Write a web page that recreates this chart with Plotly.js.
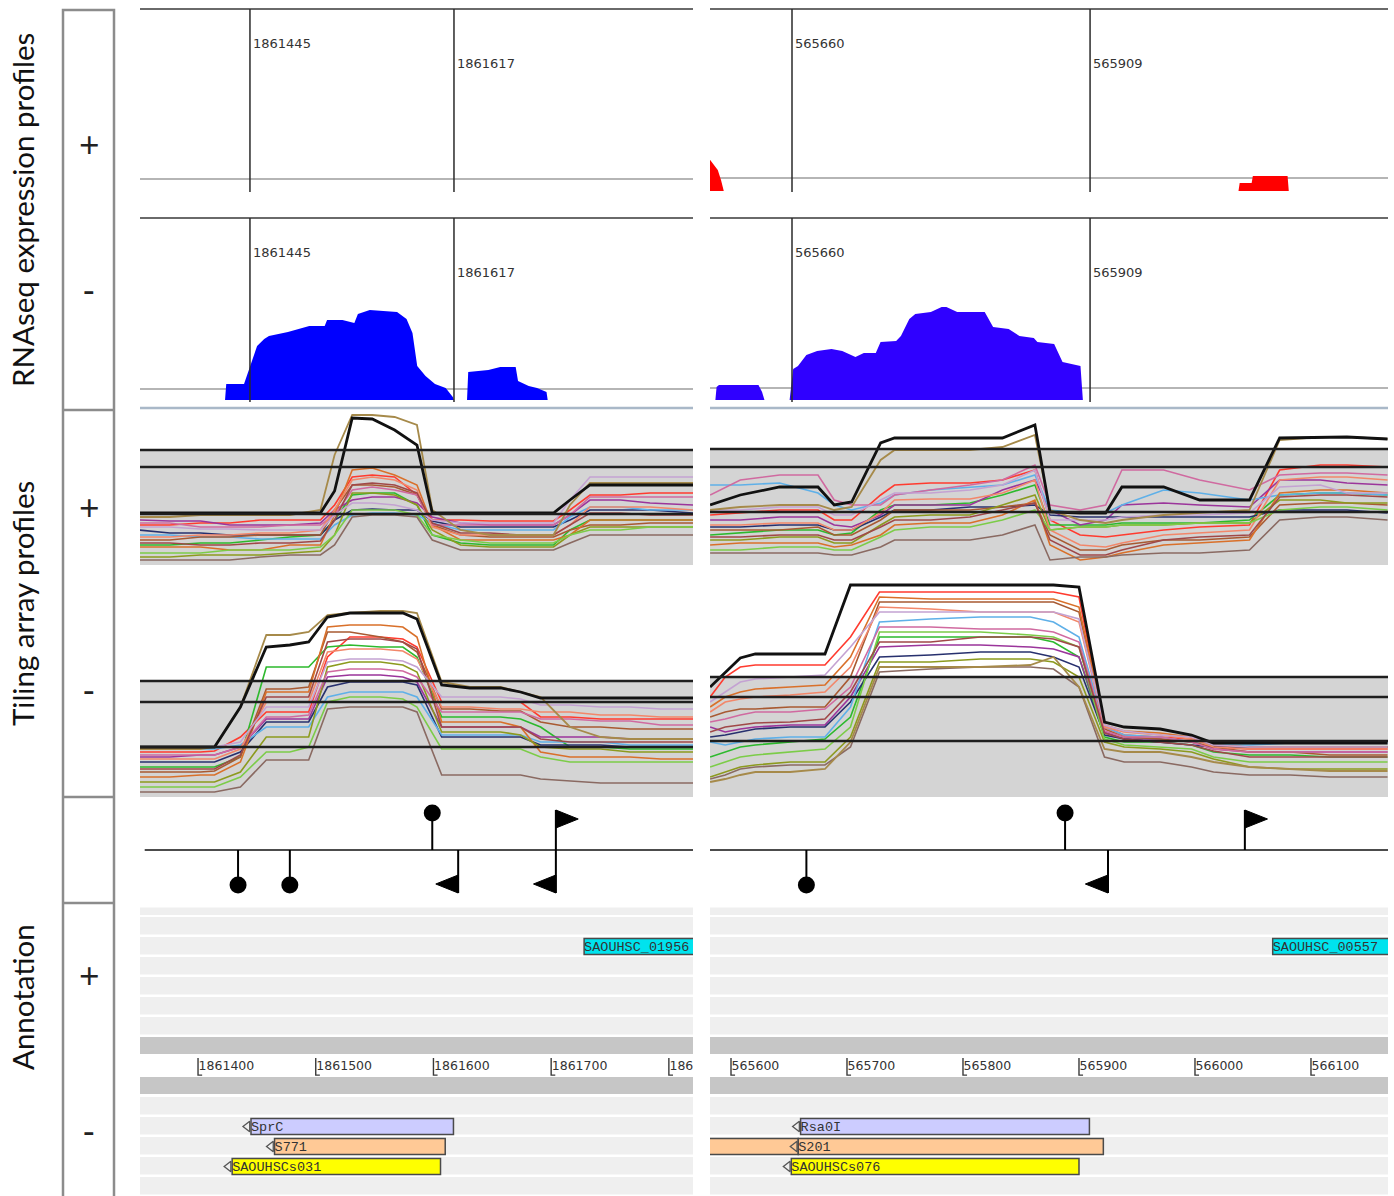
<!DOCTYPE html>
<html>
<head>
<meta charset="utf-8">
<script src="https://cdn.plot.ly/plotly-3.0.1.min.js"></script>
<style>html,body{margin:0;padding:0;background:#fff;}#chart{width:1394px;height:1196px;}</style>
</head>
<body>
<div id="chart"></div>
<script>
// ===================== DATA =====================
const boundsLeft = [1861445, 1861617];
const boundsRight = [565660, 565909];
const boundLabelsLeft = ['1861445', '1861617'];
const boundLabelsRight = ['565660', '565909'];

// RNAseq coverage (minus strand, left region)
const rnaMinusLeftPos = [1861424,1861425,1861440,1861443,1861446,1861451,1861457,1861461,1861477,1861485,1861495,1861508,1861510,1861523,1861533,1861536,1861546,1861569,1861577,1861582,1861586,1861593,1861601,1861610,1861616,1861617,1861628,1861629,1861646,1861656,1861669,1861671,1861680,1861687,1861695,1861696];
const rnaMinusLeftVal = [0,16,16,26,37,54,61,64,68,71,74,74,80,80,77,86,90,88,81,67,34,24,16,12,3,0,0,28,30,33,33,19,14,12,8,0];
// RNAseq coverage (minus strand, right region)
const rnaMinusRightPos = [565596,565597,565599,565632,565635,565637,565658,565661,565665,565672,565681,565693,565702,565713,565720,565730,565734,565747,565751,565758,565763,565776,565785,565789,565798,565821,565828,565841,565850,565862,565865,565879,565886,565901,565903];
const rnaMinusRightVal = [0,13,15,15,8,0,0,31,34,45,49,51,49,43,47,47,58,59,64,81,86,88,93,93,88,88,73,71,64,62,58,56,38,34,0];
// RNAseq coverage (plus strand, right region)
const rnaPlusRightPos = [565591,565593.6,565598,565600.7,565602.4,565603,566033,566034,566044,566045,566074,566075];
const rnaPlusRightVal = [32,28,21,11,0,0,0,8,8,15,15,0];

// Tiling array: probe grids and profiles
const tileLPlusGrid = [1861350,1861376,1861402,1861427,1861453,1861478,1861504,1861516,1861531,1861548,1861567,1861586,1861599,1861623,1861648,1861674,1861702,1861716,1861733,1861759,1861784,1861821];
const tileLPlusSeries = [
 [40,40,42,42,45,45,45,60,88,90,88,70,45,45,44,44,44,55,70,70,72,72],
 [20,20,22,22,25,28,30,45,70,72,72,60,30,22,20,20,20,35,45,45,45,45],
 [45,44,44,40,40,40,42,55,65,68,68,62,48,42,40,40,40,50,65,65,62,60],
 [35,32,32,30,30,30,30,45,55,56,55,55,44,38,38,38,38,45,55,55,55,52],
 [30,30,28,28,26,26,26,40,50,52,52,50,42,35,35,35,35,48,58,58,55,55],
 [25,25,28,28,30,30,30,55,80,80,78,70,40,30,28,28,28,35,40,40,42,42],
 [18,18,18,15,15,20,20,50,95,97,90,80,40,25,25,25,25,30,45,45,45,45],
 [8,8,10,10,10,12,14,30,72,72,70,60,35,20,18,18,18,30,38,38,38,38],
 [42,42,38,38,38,40,40,50,75,78,75,70,40,40,40,40,40,50,68,68,68,68],
 [28,28,30,30,32,32,35,55,85,88,85,75,38,30,30,30,30,40,58,58,58,55],
 [12,12,12,15,15,15,18,30,55,55,55,50,30,25,22,22,22,30,35,35,38,38],
 [22,22,20,20,22,22,24,45,80,82,80,72,42,32,32,30,30,40,52,52,50,50],
 [38,38,36,36,35,35,35,50,62,62,60,55,45,42,42,42,42,65,88,88,88,88],
 [5,5,5,5,8,10,10,20,48,50,50,48,25,15,15,15,15,22,30,30,30,30]
];
const tileLPlusOlive = [48,48,50,50,50,50,55,110,150,150,148,140,55,35,30,30,30,60,82,82,82,82];
const tileLPlusBlack = [52,52,52,52,52,52,52,74,147,146,135,120,52,52,52,52,52,65,80,80,80,80];
const thrLPlus = [115, 98, 51];

const tileLMinusGrid = [1861350,1861376,1861402,1861414,1861436,1861458,1861478,1861494,1861510,1861529,1861555,1861574,1861586,1861607,1861631,1861657,1861674,1861691,1861716,1861742,1861767,1861793,1861821];
const tileLMinusSeries = [
 [45,45,45,46,60,85,85,85,140,160,160,158,150,95,95,95,95,80,80,78,78,78,78],
 [30,30,30,30,40,130,130,130,150,152,150,150,140,80,80,80,78,70,50,50,48,48,48],
 [40,40,42,42,50,78,78,78,120,122,122,120,115,70,70,70,70,60,60,60,58,58,58],
 [35,35,35,35,45,75,75,75,110,115,115,115,112,60,60,60,60,52,52,52,50,50,50],
 [48,48,48,48,52,70,70,70,100,105,105,105,100,62,62,62,62,55,55,55,52,52,52],
 [25,25,25,26,40,108,108,110,165,165,160,155,145,88,88,86,86,75,70,70,68,68,68],
 [20,20,22,22,35,105,105,105,170,172,172,170,160,75,75,75,70,45,40,40,40,38,38],
 [15,15,15,15,25,60,60,60,130,135,135,132,125,65,65,65,62,50,48,48,45,45,45],
 [42,42,42,42,50,80,80,82,125,128,128,126,120,85,85,85,85,78,78,76,76,72,72],
 [38,38,38,38,48,95,95,95,145,148,148,146,138,90,90,88,88,85,85,82,82,80,80],
 [10,10,10,10,20,45,45,50,95,100,100,98,90,48,48,48,48,40,35,35,35,35,35],
 [28,28,28,28,42,100,100,100,155,158,158,155,148,70,70,70,70,58,55,55,55,55,55],
 [50,50,50,50,55,90,90,90,135,138,138,136,130,100,100,100,98,92,92,90,90,88,88],
 [5,5,5,5,10,37,37,37,88,90,90,90,85,22,22,22,22,18,16,14,14,14,14]
];
const tileLMinusOlive = [48,48,48,50,90,162,162,165,182,184,186,186,184,115,110,110,105,100,70,60,58,58,58];
const tileLMinusBlack = [50,50,50,50,90,150,152,155,180,184,184,184,178,112,109,109,105,99,99,99,99,99,99];
const thrLMinus = [116, 95, 50];

const tileRPlusGrid = [565582,565608,565642,565675,565689,565704,565729,565741,565772,565806,565834,565862,565875,565901,565923,565937,565973,566004,566047,566073,566108,566131,566166];
const tileRPlusSeries = [
 [50,52,55,55,45,45,70,80,82,82,85,95,45,30,28,30,35,38,40,95,100,100,98],
 [30,32,35,35,30,32,55,60,60,62,70,80,40,40,40,42,42,42,45,70,72,72,70],
 [45,45,48,48,40,38,50,60,60,60,75,85,55,40,45,60,62,60,58,85,85,82,80],
 [38,38,40,40,35,35,48,55,55,58,58,60,50,48,48,48,48,48,48,55,55,55,52],
 [80,80,82,72,60,55,62,70,75,78,80,90,55,52,52,60,75,72,65,70,72,72,70],
 [35,35,35,38,30,30,45,55,55,55,58,62,30,15,15,20,25,25,28,60,62,62,60],
 [20,22,22,22,18,20,30,40,42,42,50,65,20,5,8,12,20,22,25,72,75,75,72],
 [25,25,28,28,22,22,40,48,50,50,60,70,35,38,38,40,40,42,42,65,65,62,62],
 [70,85,90,90,65,60,60,70,75,80,85,100,60,55,60,95,95,85,75,90,92,92,90],
 [40,40,42,42,35,35,52,65,66,66,72,85,35,20,18,22,30,32,35,85,88,88,85],
 [15,15,18,18,15,15,28,35,38,38,45,55,35,38,38,40,40,42,42,55,58,58,55],
 [28,28,30,30,25,25,38,45,45,48,55,62,25,10,10,15,25,28,30,68,70,70,68],
 [55,55,58,58,50,50,65,72,72,75,80,95,45,45,45,48,50,50,52,78,80,72,72],
 [12,12,12,12,10,10,18,25,25,25,30,40,5,8,8,10,12,12,15,45,48,48,45]
];
const tileRPlusOlive = [55,58,60,60,55,58,105,115,115,115,118,130,55,45,42,45,50,52,55,125,128,128,126];
const tileRPlusBlack = [60,70,78,78,60,63,122,127,127,127,127,140,53,52,52,78,78,65,65,127,128,128,126];
const thrRPlus = [116, 98, 53];

const tileRMinusGrid = [565582,565595,565608,565621,565651,565681,565703,565728,565772,565815,565858,565878,565900,565922,565939,565970,565997,566016,566047,566082,566116,566142,566166];
const tileRMinusSeries = [
 [100,120,130,132,132,132,160,205,205,205,205,205,200,70,62,60,58,50,48,48,48,48,48],
 [40,45,50,52,55,58,80,160,160,160,160,155,140,60,55,55,52,45,42,42,40,40,40],
 [70,65,68,70,72,72,100,150,152,152,150,148,140,65,58,58,55,48,45,45,45,45,45],
 [60,62,65,68,70,70,95,140,142,145,145,140,130,62,58,55,52,50,50,50,50,50,50],
 [55,52,55,58,60,60,90,175,178,180,180,175,160,70,62,60,55,52,52,54,54,54,54],
 [80,85,88,88,90,90,120,195,195,195,195,195,185,68,60,58,55,50,45,45,42,42,42],
 [90,100,105,108,110,112,140,200,198,198,198,198,190,72,66,64,60,52,50,50,50,50,50],
 [20,25,30,32,35,35,60,135,135,138,138,135,120,55,50,48,45,38,30,28,28,28,28],
 [75,78,82,85,85,88,110,170,170,168,168,165,155,66,60,60,55,48,45,45,45,45,45],
 [85,95,98,100,102,105,130,190,188,185,185,185,175,70,65,62,58,50,48,48,48,48,48],
 [30,35,40,42,45,48,70,165,165,165,162,160,150,58,52,50,48,40,35,35,35,35,35],
 [65,70,72,74,75,78,105,155,155,160,160,158,150,64,58,55,52,46,40,40,40,40,40],
 [95,105,115,118,120,122,150,185,185,185,185,185,178,72,66,62,60,52,50,50,50,50,50],
 [18,22,28,30,32,32,50,125,128,130,130,128,110,40,35,35,30,25,22,22,20,20,20]
];
const tileRMinusOlive = [15,18,22,25,25,28,55,130,130,130,132,140,110,48,45,45,40,35,30,28,26,26,26];
const tileRMinusBlack = [110,125,139,143,143,143,212,212,212,212,212,212,210,75,70,68,62,54,54,54,54,54,54];
const thrRMinus = [120, 100, 56];

// Terminators (lollipops) and promoters (flags)
const termPlusLeft = [1861599];
const termMinusLeft = [1861434, 1861478];
const promPlusLeft = [1861704];
const promMinusLeft = [1861621, 1861704];
const termPlusRight = [565888];
const termMinusRight = [565665];
const promPlusRight = [566043];
const promMinusRight = [565925];

// Annotation
const ticksLeft = [1861400, 1861500, 1861600, 1861700, 1861800];
const ticksRight = [565600, 565700, 565800, 565900, 566000, 566100];

const genesLeftName = ['SAOUHSC_01956', 'SprC', 'S771', 'SAOUHSCs031'];
const genesLeftStart = [1861728, 1861445, 1861465, 1861429];
const genesLeftEnd = [1861950, 1861617, 1861610, 1861606];
const genesLeftRow = [1, 10, 11, 12];
const genesLeftType = ['cds', 'srnaA', 'srnaB', 'srnaC'];

const genesRightName = ['SAOUHSC_00557', 'Rsa0I', '', 'S201', 'SAOUHSCs076'];
const genesRightStart = [566067, 565660, 565520, 565658, 565652];
const genesRightEnd = [566300, 565909, 565658, 565921, 565900];
const genesRightRow = [1, 10, 11, 11, 12];
const genesRightType = ['cds', 'srnaA', 'srnaB', 'srnaB', 'srnaC'];

// ===================== STYLE / LAYOUT =====================
const W = 1394, H = 1196;
const P = px => px / W;
const Q = py => 1 - py / H;
const domX = (a, b) => [a / W, b / W];
const domY = (t, b) => [1 - b / H, 1 - t / H];

const typeColor = {cds: '#00e3ee', srnaA: '#ccccff', srnaB: '#ffc996', srnaC: '#ffff00'};
const lineColors = ['#ff3b2f','#2db92d','#9b359b','#27306e','#5fb0e8','#a85a32','#d9702a','#8c9a1e','#d06aa0','#f2876a','#7ccc48','#a04848','#c4a2d2','#8a6a62'];

const xRngRnaL = [1861352.3, 1861818.5];
const xRngAnnL = [1861350.7, 1861820.5];
const xRngRnaR = [565591.5, 566157.9];
const xRngAnnR = [565581.9, 566166.4];

const traces = [];
const shapes = [];
const annotations = [];
function add(t) { traces.push(Object.assign({hoverinfo: 'skip', showlegend: false}, t)); }

// make sure all subplots exist
[['x','y'],['x','y2'],['x3','y'],['x3','y2'],['x2','y3'],['x2','y4'],['x2','y5'],['x2','y6'],['x4','y3'],['x4','y4'],['x4','y5'],['x4','y6']]
  .forEach(([xa, ya]) => add({type: 'scatter', x: [], y: [], xaxis: xa, yaxis: ya}));

// ---------- RNAseq panels ----------
function rnaArea(pos, val, xa, ya, color) {
  add({type: 'scatter', mode: 'lines', x: pos, y: val, xaxis: xa, yaxis: ya, fill: 'tozeroy',
       fillcolor: color, line: {width: 0, color: color}});
}
rnaArea(rnaMinusLeftPos, rnaMinusLeftVal, 'x', 'y2', '#0000ff');
rnaArea(rnaMinusRightPos, rnaMinusRightVal, 'x3', 'y2', '#2f00ff');
rnaArea(rnaPlusRightPos, rnaPlusRightVal, 'x3', 'y', '#ff0000');

function pline(x0, y0, x1, y1, color, width, layer) {
  shapes.push({type: 'line', xref: 'paper', yref: 'paper', x0: P(x0), x1: P(x1), y0: Q(y0), y1: Q(y1),
               line: {color: color, width: width}, layer: layer || 'above'});
}
// panel frames
[[140, 693], [710, 1388]].forEach(([a, b]) => {
  pline(a, 9, b, 9, '#6a6a6a', 2);
  pline(a, 218, b, 218, '#6a6a6a', 2);
  pline(a, 408, b, 408, '#a9b8c8', 2.5);
});
pline(140, 179, 693, 179, '#b5b5b5', 2, 'below');
pline(710, 178, 1388, 178, '#b5b5b5', 2, 'below');
pline(140, 389, 693, 389, '#b5b5b5', 2, 'below');
pline(710, 388, 1388, 388, '#b5b5b5', 2, 'below');

function boundLines(bounds, labels, xa) {
  bounds.forEach((b, i) => {
    [[9, 192], [218, 402]].forEach(([t, bt]) => {
      shapes.push({type: 'line', xref: xa, yref: 'paper', x0: b, x1: b, y0: Q(bt), y1: Q(t),
                   line: {color: '#2a2a2a', width: 1.5}, layer: 'above'});
      annotations.push({xref: xa, yref: 'paper', x: b, y: Q(t + 34.5 + 20 * i), text: labels[i],
        xanchor: 'left', yanchor: 'middle', xshift: 1, showarrow: false,
        font: {family: 'DejaVu Sans', size: 13, color: '#333'}});
    });
  });
}
boundLines(boundsLeft, boundLabelsLeft, 'x');
boundLines(boundsRight, boundLabelsRight, 'x3');

// ---------- Tiling panels ----------
function tiling(grid, series, olive, black, thr, xa, ya, xr) {
  shapes.push({type: 'rect', xref: xa, yref: ya, x0: xr[0], x1: xr[1], y0: 0, y1: thr[0],
               fillcolor: '#d4d4d4', line: {width: 0}, layer: 'below'});
  series.forEach((s, i) => add({type: 'scatter', mode: 'lines', x: grid, y: s, xaxis: xa, yaxis: ya,
    line: {color: lineColors[i % lineColors.length], width: 1.6}}));
  add({type: 'scatter', mode: 'lines', x: grid, y: olive, xaxis: xa, yaxis: ya, line: {color: '#a68a4a', width: 1.8}});
  add({type: 'scatter', mode: 'lines', x: grid, y: black, xaxis: xa, yaxis: ya, line: {color: '#111', width: 2.8}});
  thr.forEach(t => shapes.push({type: 'line', xref: xa, yref: ya, x0: xr[0], x1: xr[1], y0: t, y1: t,
    line: {color: '#1e1e1e', width: 2.4}, layer: 'above'}));
}
tiling(tileLPlusGrid, tileLPlusSeries, tileLPlusOlive, tileLPlusBlack, thrLPlus, 'x2', 'y3', xRngAnnL);
tiling(tileLMinusGrid, tileLMinusSeries, tileLMinusOlive, tileLMinusBlack, thrLMinus, 'x2', 'y4', xRngAnnL);
tiling(tileRPlusGrid, tileRPlusSeries, tileRPlusOlive, tileRPlusBlack, thrRPlus, 'x4', 'y3', xRngAnnR);
tiling(tileRMinusGrid, tileRMinusSeries, tileRMinusOlive, tileRMinusBlack, thrRMinus, 'x4', 'y4', xRngAnnR);

// ---------- Terminator / promoter row ----------
function symbols(tp, tm, pp, pm, xa, ya, xr, triW, lineStart) {
  shapes.push({type: 'line', xref: xa, yref: ya, x0: lineStart, x1: xr[1], y0: 0, y1: 0,
               line: {color: '#111', width: 1.5}, layer: 'below'});
  const sx = [], sy = [];
  tp.forEach(p => { sx.push(p, p, null); sy.push(0, 0.925, null); });
  tm.forEach(p => { sx.push(p, p, null); sy.push(0, -0.875, null); });
  pp.forEach(p => { sx.push(p, p, null); sy.push(0, 1.0, null); });
  pm.forEach(p => { sx.push(p, p, null); sy.push(0, -1.075, null); });
  add({type: 'scatter', mode: 'lines', x: sx, y: sy, xaxis: xa, yaxis: ya, line: {color: '#000', width: 2}});
  add({type: 'scatter', mode: 'markers', x: tp.concat(tm), y: tp.map(() => 0.925).concat(tm.map(() => -0.875)),
       xaxis: xa, yaxis: ya, marker: {symbol: 'circle', size: 17, color: '#000'}});
  const fx = [], fy = [];
  pp.forEach(p => { fx.push(p, p, p + triW, p, null); fy.push(1.0, 0.55, 0.775, 1.0, null); });
  pm.forEach(p => { fx.push(p, p, p - triW, p, null); fy.push(-0.625, -1.075, -0.85, -0.625, null); });
  add({type: 'scatter', mode: 'lines', x: fx, y: fy, xaxis: xa, yaxis: ya, fill: 'toself',
       fillcolor: '#000', line: {color: '#000', width: 1}});
}
symbols(termPlusLeft, termMinusLeft, promPlusLeft, promMinusLeft, 'x2', 'y5', xRngAnnL, 19, xRngAnnL[0] + 4);
symbols(termPlusRight, termMinusRight, promPlusRight, promMinusRight, 'x4', 'y5', xRngAnnR, 19.5, xRngAnnR[0]);

// ---------- Annotation tracks ----------
function annotationTrack(xa, ya, xr, ticks, names, starts, ends, rows, types, footBp) {
  const rect = (y0, y1, c) => shapes.push({type: 'rect', xref: xa, yref: ya, x0: xr[0], x1: xr[1], y0: y0, y1: y1,
                                            fillcolor: c, line: {width: 0}, layer: 'below'});
  rect(-0.95, -0.57, '#efefef');
  [0, 1, 2, 3, 4, 5, 9, 10, 11, 12, 13].forEach(r => rect(r - 0.48, r + 0.4, '#efefef'));
  rect(5.52, 6.38, '#c6c6c6');
  rect(7.52, 8.38, '#c6c6c6');

  add({type: 'bar', orientation: 'h', y: rows, base: starts, x: ends.map((e, i) => e - starts[i]),
       width: 0.8, xaxis: xa, yaxis: ya,
       marker: {color: types.map(t => typeColor[t]), line: {color: '#4a4a4a', width: 1.5}}});
  const lab = names.map((n, i) => i).filter(i => names[i] !== '');
  add({type: 'scatter', mode: 'text', x: lab.map(i => starts[i]), y: lab.map(i => rows[i] + 0.05),
       text: lab.map(i => names[i]), textposition: 'middle right', xaxis: xa, yaxis: ya,
       textfont: {family: 'Liberation Mono', size: 13.5, color: '#333'}});
  const minus = lab.filter(i => rows[i] > 8);
  add({type: 'scatter', mode: 'markers', x: minus.map(i => starts[i] - 3), y: minus.map(i => rows[i]),
       xaxis: xa, yaxis: ya, marker: {symbol: 'triangle-left-open', size: 9, color: '#555', line: {width: 1.3, color: '#555'}}});

  const tx = [], ty = [];
  ticks.forEach(t => { tx.push(t, t, t + footBp, null); ty.push(6.58, 7.43, 7.43, null); });
  add({type: 'scatter', mode: 'lines', x: tx, y: ty, xaxis: xa, yaxis: ya, line: {color: '#3a3a3a', width: 1.4}});
  add({type: 'scatter', mode: 'text', x: ticks.map(t => t + 0.5), y: ticks.map(() => 7.02), text: ticks.map(String),
       textposition: 'middle right', xaxis: xa, yaxis: ya,
       textfont: {family: 'DejaVu Sans', size: 12.5, color: '#333'}});
}
annotationTrack('x2', 'y6', xRngAnnL, ticksLeft, genesLeftName, genesLeftStart, genesLeftEnd, genesLeftRow, genesLeftType, 3.5);
annotationTrack('x4', 'y6', xRngAnnR, ticksRight, genesRightName, genesRightStart, genesRightEnd, genesRightRow, genesRightType, 3.5);

// ---------- Left label column ----------
shapes.push({type: 'rect', xref: 'paper', yref: 'paper', x0: P(63), x1: P(114), y0: Q(1220), y1: Q(10),
             line: {color: '#8c8c8c', width: 2.5}, fillcolor: 'rgba(0,0,0,0)', layer: 'above'});
[410, 797, 903].forEach(py => pline(63, py, 114, py, '#8c8c8c', 2.5));
[['+', 145], ['-', 290], ['+', 507], ['-', 690], ['+', 975], ['-', 1130]].forEach(([s, py]) =>
  annotations.push({xref: 'paper', yref: 'paper', x: P(89), y: Q(py), text: s, showarrow: false,
    xanchor: 'center', yanchor: 'middle', font: {family: 'Open Sans', size: 36, color: '#222'}}));
[['RNAseq expression profiles', 210], ['Tiling array profiles', 604], ['Annotation', 997]].forEach(([s, py]) =>
  annotations.push({xref: 'paper', yref: 'paper', x: P(22), y: Q(py), text: s, textangle: -90, showarrow: false,
    xanchor: 'center', yanchor: 'middle', font: {family: 'Lato', size: 29.5, color: '#111'}}));

const hid = {visible: false, fixedrange: true, showgrid: false, zeroline: false};
const layout = {
  width: W, height: H, margin: {l: 0, r: 0, t: 0, b: 0},
  paper_bgcolor: '#ffffff', plot_bgcolor: 'rgba(0,0,0,0)', showlegend: false, barmode: 'overlay',
  xaxis:  Object.assign({}, hid, {domain: domX(140, 693), range: xRngRnaL, anchor: 'y'}),
  xaxis2: Object.assign({}, hid, {domain: domX(140, 693), range: xRngAnnL, anchor: 'y3'}),
  xaxis3: Object.assign({}, hid, {domain: domX(710, 1388), range: xRngRnaR, anchor: 'y'}),
  xaxis4: Object.assign({}, hid, {domain: domX(710, 1388), range: xRngAnnR, anchor: 'y3'}),
  yaxis:  Object.assign({}, hid, {domain: domY(9, 192), range: [-1, 182], anchor: 'x'}),
  yaxis2: Object.assign({}, hid, {domain: domY(218, 402), range: [-2, 182], anchor: 'x'}),
  yaxis3: Object.assign({}, hid, {domain: domY(410, 565), range: [0, 155], anchor: 'x2'}),
  yaxis4: Object.assign({}, hid, {domain: domY(570, 797), range: [0, 227], anchor: 'x2'}),
  yaxis5: Object.assign({}, hid, {domain: domY(800, 900), range: [-1.25, 1.25], anchor: 'x2'}),
  yaxis6: Object.assign({}, hid, {domain: domY(906, 1196), range: [13.475, -1.025], anchor: 'x2'}),
  shapes: shapes, annotations: annotations
};
Plotly.newPlot('chart', traces, layout, {displayModeBar: false, staticPlot: true});
</script>
</body>
</html>
